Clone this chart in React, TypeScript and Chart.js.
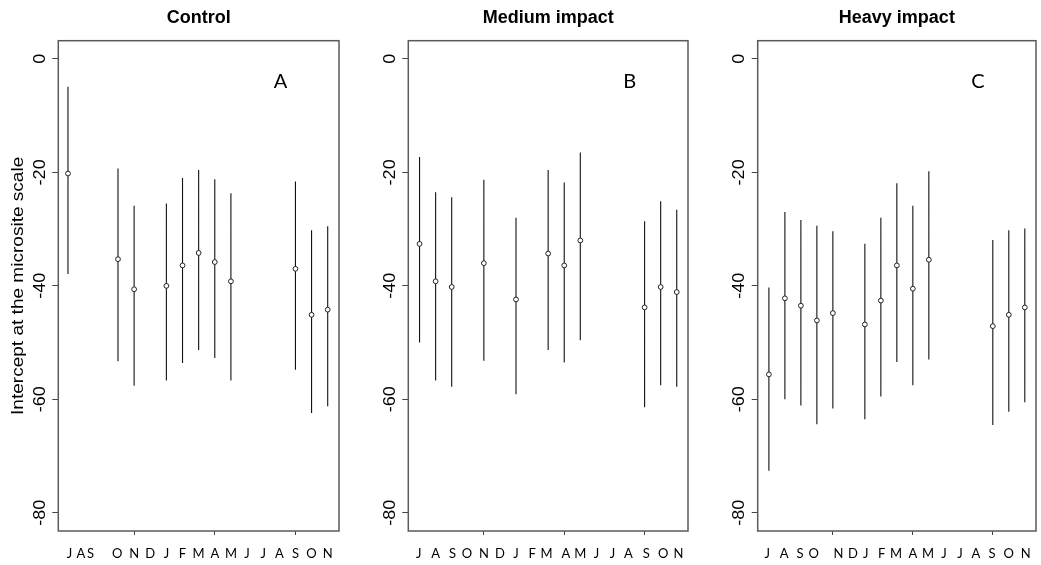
import React, { useEffect, useRef } from "react";
import { Chart, registerables } from "chart.js";

Chart.register(...registerables);

// ---- data ----
const monthLabels = ["J", "A", "S", "O", "N", "D", "J", "F", "M", "A", "M", "J", "J", "A", "S", "O", "N"];
const labelPosA = [0, 0.7, 1.3, 2.95, 4, 5, 6, 7, 8, 9, 10, 11, 12, 13, 14, 15, 16];
const labelPosB = [-0.05, 1, 2.05, 2.95, 4, 5, 6, 7, 7.9, 9.1, 10, 11, 12, 13, 14.1, 15.15, 16.1];
const labelPosC = [-0.1, 0.95, 1.95, 2.8, 4.35, 5.25, 6.05, 7.05, 7.95, 9, 9.95, 10.95, 11.95, 12.95, 13.95, 15, 16.05];
const xTickMarks = [4, 9, 14];
const yTicks = [-80, -60, -40, -20, 0];

const xA = [-0.1, 3, 4, 6, 7, 8, 9, 10, 14, 15, 16];
const meanA = [-20.2, -35.3, -40.6, -40.0, -36.4, -34.2, -35.8, -39.2, -37.0, -45.1, -44.2];
const upperA = [-4.9, -19.3, -25.9, -25.5, -21.0, -19.6, -21.2, -23.7, -21.6, -30.2, -29.5];
const lowerA = [-37.9, -53.3, -57.6, -56.7, -53.6, -51.3, -52.7, -56.7, -54.8, -62.4, -61.2];

const xB = [0, 1, 2, 4, 6, 8, 9, 10, 14, 15, 16];
const meanB = [-32.6, -39.2, -40.2, -36.0, -42.4, -34.3, -36.4, -32.0, -43.8, -40.2, -41.1];
const upperB = [-17.3, -23.5, -24.4, -21.3, -28.0, -19.6, -21.8, -16.5, -28.6, -25.1, -26.6];
const lowerB = [-50.0, -56.7, -57.8, -53.2, -59.1, -51.3, -53.5, -49.6, -61.4, -57.5, -57.8];

const xC = [0, 1, 2, 3, 4, 6, 7, 8, 9, 10, 14, 15, 16];
const meanC = [-55.6, -42.2, -43.5, -46.1, -44.8, -46.8, -42.6, -36.4, -40.5, -35.4, -47.1, -45.1, -43.8];
const upperC = [-40.3, -27.0, -28.4, -29.4, -30.4, -32.6, -28.0, -21.9, -25.9, -19.8, -31.9, -30.2, -29.9];
const lowerC = [-72.6, -60.0, -61.1, -64.4, -61.6, -63.5, -59.5, -53.4, -57.5, -53.0, -64.5, -62.2, -60.5];

const titles = ["Control", "Medium impact", "Heavy impact"];
const letters = ["A", "B", "C"];
const yAxisTitle = "Intercept at the microsite scale";

const X_MIN = -0.7;
const X_MAX = 16.7;
const Y_MIN = -83.2;
const Y_MAX = 3.2;
const LETTER_X = 13.07;
const LETTER_Y = -4;

const W = 347;
const H = 565;

type PanelProps = {
  left: number;
  areaLeft: number;
  padRight: number;
  title: string;
  letter: string;
  xs: number[];
  mean: number[];
  lo: number[];
  hi: number[];
  labelPos: number[];
  showYTitle: boolean;
};

function Panel(p: PanelProps) {
  const ref = useRef<HTMLCanvasElement | null>(null);
  useEffect(() => {
    if (!ref.current) return;
    const pts = p.xs.map((x, i) => ({ x, y: p.mean[i] }));
    const bars: any[] = [];
    p.xs.forEach((x, i) => {
      bars.push({ x, y: p.lo[i] });
      bars.push({ x, y: p.hi[i] });
      bars.push({ x, y: null });
    });
    const deco = {
      id: "deco",
      afterDraw(chart: any) {
        const ctx = chart.ctx;
        const a = chart.chartArea;
        const ys = chart.scales.y;
        const xsScale = chart.scales.x;
        ctx.save();
        // box
        ctx.strokeStyle = "#5a5a5a";
        ctx.lineWidth = 1.5;
        ctx.strokeRect(a.left, a.top, a.right - a.left, a.bottom - a.top);
        // y tick labels rotated
        ctx.fillStyle = "#000";
        ctx.font = '17px "Liberation Sans", Arial, sans-serif';
        ctx.textAlign = "center";
        ctx.textBaseline = "middle";
        yTicks.forEach((v) => {
          const y = ys.getPixelForValue(v);
          ctx.save();
          ctx.translate(a.left - 18, y);
          ctx.rotate(-Math.PI / 2);
          ctx.scale(1.06, 1);
          ctx.fillText(String(v), 0, 0);
          ctx.restore();
        });
        // title
        ctx.font = 'bold 18px "Liberation Sans", Arial, sans-serif';
        ctx.fillText(p.title, (a.left + a.right) / 2, 18);
        // panel letter
        ctx.font = '20px Lato, sans-serif';
        ctx.fillText(p.letter, xsScale.getPixelForValue(LETTER_X), ys.getPixelForValue(LETTER_Y));
        // y axis title
        if (p.showYTitle) {
          ctx.font = '17px "Liberation Sans", Arial, sans-serif';
          ctx.save();
          ctx.translate(18, (a.top + a.bottom) / 2);
          ctx.rotate(-Math.PI / 2);
          ctx.scale(1.12, 1);
          ctx.fillText(yAxisTitle, 0, 0);
          ctx.restore();
        }
        ctx.restore();
      },
    };
    const chart = new Chart(ref.current, {
      type: "scatter",
      data: {
        datasets: [
          {
            data: pts,
            pointRadius: 2.4,
            pointBorderWidth: 1,
            pointBorderColor: "#222",
            pointBackgroundColor: "#fff",
            showLine: false,
          } as any,
          {
            data: bars,
            showLine: true,
            spanGaps: false,
            pointRadius: 0,
            borderWidth: 1.1,
            borderColor: "#111",
          } as any,
        ],
      },
      options: {
        responsive: false,
        animation: false,
        layout: { padding: { top: 40.7, right: p.padRight, bottom: 0, left: 0 } },
        plugins: { legend: { display: false }, tooltip: { enabled: false } },
        scales: {
          x: {
            type: "linear",
            min: X_MIN,
            max: X_MAX,
            afterBuildTicks: (s: any) => {
              const t: any[] = [];
              p.labelPos.forEach((v, i) => t.push({ value: v, text: monthLabels[i], mark: false }));
              xTickMarks.forEach((v) => t.push({ value: v, text: "", mark: true }));
              s.ticks = t;
            },
            afterFit: (s: any) => {
              s.height = 34;
            },
            border: { display: false },
            grid: {
              display: true,
              drawOnChartArea: false,
              drawTicks: true,
              tickLength: 4,
              tickWidth: 1,
              tickColor: (c: any) => (c.tick && c.tick.mark ? "#444" : "rgba(0,0,0,0)"),
            },
            ticks: {
              autoSkip: false,
              maxRotation: 0,
              minRotation: 0,
              padding: 11,
              color: "#000",
              font: { family: "Lato", size: 13 },
              callback: (_v: any, i: number, ticks: any[]) => ticks[i].text,
            },
          },
          y: {
            type: "linear",
            min: Y_MIN,
            max: Y_MAX,
            afterBuildTicks: (s: any) => {
              s.ticks = yTicks.map((v) => ({ value: v }));
            },
            afterFit: (s: any) => {
              s.width = p.areaLeft;
            },
            border: { display: false },
            grid: {
              display: true,
              drawOnChartArea: false,
              drawTicks: true,
              tickLength: 6,
              tickWidth: 1,
              tickColor: "#444",
            },
            ticks: { display: false },
          },
        },
      } as any,
      plugins: [deco],
    });
    return () => chart.destroy();
  }, []);
  return (
    <canvas
      ref={ref}
      width={W}
      height={H}
      style={{ position: "absolute", left: p.left, top: 0, width: W, height: H }}
    />
  );
}

export default function App() {
  return (
    <div style={{ position: "absolute", left: 0, top: 0, width: 1041, height: 565, background: "#fff", overflow: "hidden" }}>
      <Panel left={0} areaLeft={58.3} padRight={8} title={titles[0]} letter={letters[0]} xs={xA} mean={meanA} lo={lowerA} hi={upperA} labelPos={labelPosA} showYTitle={true} />
      <Panel left={347} areaLeft={61.3} padRight={6} title={titles[1]} letter={letters[1]} xs={xB} mean={meanB} lo={lowerB} hi={upperB} labelPos={labelPosB} showYTitle={false} />
      <Panel left={694} areaLeft={63.7} padRight={3.7} title={titles[2]} letter={letters[2]} xs={xC} mean={meanC} lo={lowerC} hi={upperC} labelPos={labelPosC} showYTitle={false} />
    </div>
  );
}
